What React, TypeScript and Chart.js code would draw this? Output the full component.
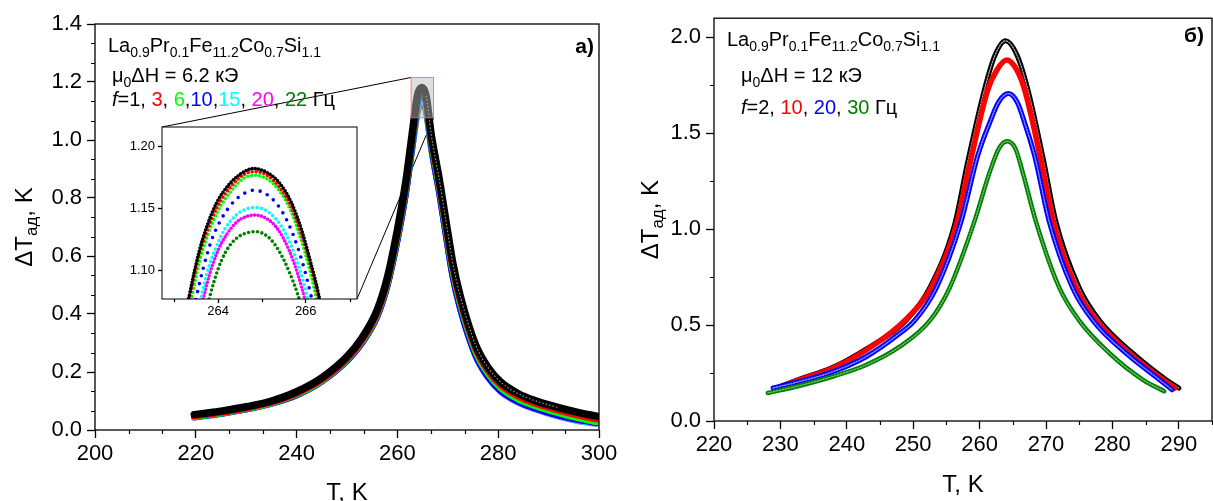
import React, { useEffect, useRef } from "react";
import { Chart, registerables } from "chart.js";

Chart.register(...registerables);

const FF = '"Liberation Sans", Arial, Helvetica, sans-serif';

// ---------- Panel a) : f = 1, 3, 6, 10, 15, 20, 22 Hz ----------
const T_A = [219.7, 222, 225, 230, 235, 240, 245, 250, 253, 256, 258, 260, 261.7, 262.4, 263, 264, 264.85, 265.7, 266.7, 267.4, 268.2, 269.6, 271, 272.5, 275.5, 278, 280.5, 284, 287, 292, 296, 299.5];
const A_F1 = [0.053, 0.058, 0.065, 0.080, 0.100, 0.132, 0.180, 0.253, 0.318, 0.414, 0.525, 0.690, 0.860, 0.950, 1.030, 1.155, 1.181, 1.152, 1.020, 0.950, 0.875, 0.724, 0.575, 0.460, 0.294, 0.215, 0.165, 0.125, 0.103, 0.077, 0.060, 0.048];
const A_F3 = [0.048, 0.053, 0.060, 0.075, 0.095, 0.126, 0.173, 0.245, 0.309, 0.403, 0.512, 0.676, 0.845, 0.936, 1.018, 1.148, 1.1795, 1.146, 1.008, 0.935, 0.858, 0.705, 0.556, 0.443, 0.280, 0.203, 0.154, 0.115, 0.093, 0.067, 0.050, 0.037];
const A_F6 = [0.046, 0.051, 0.058, 0.073, 0.093, 0.123, 0.170, 0.242, 0.305, 0.398, 0.506, 0.668, 0.836, 0.926, 1.008, 1.140, 1.1766, 1.140, 1.000, 0.925, 0.848, 0.694, 0.545, 0.433, 0.271, 0.194, 0.145, 0.106, 0.085, 0.058, 0.040, 0.028];
const A_F10 = [0.045, 0.050, 0.057, 0.072, 0.092, 0.121, 0.168, 0.239, 0.301, 0.392, 0.498, 0.656, 0.822, 0.911, 0.992, 1.125, 1.1645, 1.127, 0.985, 0.908, 0.832, 0.677, 0.528, 0.417, 0.258, 0.182, 0.134, 0.097, 0.076, 0.050, 0.034, 0.025];
const A_F15 = [0.045, 0.050, 0.057, 0.072, 0.092, 0.121, 0.168, 0.240, 0.302, 0.394, 0.500, 0.658, 0.823, 0.910, 0.988, 1.115, 1.1505, 1.116, 0.982, 0.908, 0.833, 0.679, 0.530, 0.418, 0.259, 0.182, 0.134, 0.096, 0.075, 0.048, 0.032, 0.023];
const A_F20 = [0.044, 0.049, 0.056, 0.071, 0.091, 0.120, 0.167, 0.239, 0.301, 0.393, 0.499, 0.657, 0.821, 0.907, 0.984, 1.108, 1.1444, 1.109, 0.978, 0.906, 0.832, 0.678, 0.529, 0.417, 0.258, 0.181, 0.133, 0.095, 0.074, 0.047, 0.031, 0.022];
const A_F22 = [0.045, 0.050, 0.057, 0.072, 0.092, 0.121, 0.168, 0.240, 0.302, 0.394, 0.500, 0.658, 0.822, 0.906, 0.980, 1.097, 1.131, 1.098, 0.975, 0.905, 0.832, 0.680, 0.532, 0.421, 0.262, 0.186, 0.138, 0.100, 0.079, 0.052, 0.036, 0.027];

const A_X_TICKS = [200, 220, 240, 260, 280, 300];
const A_Y_TICKS = [0, 0.2, 0.4, 0.6, 0.8, 1.0, 1.2, 1.4];
const FREQ_A = ["1", "3", "6", "10", "15", "20", "22"];
const SEP_A = [", ", ", ", ",", ",", ", ", ", "];

// ---------- Inset (zoom of the peak) ----------
const IN_X_MIN = 262.72, IN_X_MAX = 267.17, IN_Y_MIN = 1.0766, IN_Y_MAX = 1.2156;
const IN_X_TICKS = [264, 266];
const IN_Y_TICKS = [1.10, 1.15, 1.20];
const IN_T_1 = [263.25, 263.34, 263.56, 263.74, 263.96, 264.27, 264.57, 264.80, 265.11, 265.41, 265.68, 265.91, 266.10, 266.29, 266.37];
const IN_V_1 = [1.062, 1.079, 1.114, 1.135, 1.154, 1.170, 1.179, 1.182, 1.179, 1.170, 1.154, 1.132, 1.108, 1.081, 1.066];
const IN_T_3 = [263.30, 263.55, 263.75, 263.98, 264.28, 264.58, 264.82, 265.10, 265.40, 265.67, 265.90, 266.10, 266.32];
const IN_V_3 = [1.070, 1.110, 1.132, 1.151, 1.167, 1.177, 1.1795, 1.177, 1.167, 1.151, 1.129, 1.105, 1.074];
const IN_T_6 = [263.33, 263.57, 263.77, 264.00, 264.30, 264.58, 264.82, 265.10, 265.40, 265.66, 265.88, 266.08, 266.30];
const IN_V_6 = [1.066, 1.106, 1.129, 1.148, 1.164, 1.174, 1.1766, 1.174, 1.164, 1.148, 1.126, 1.102, 1.068];
const IN_T_10 = [263.45, 263.65, 263.85, 264.07, 264.35, 264.60, 264.82, 265.07, 265.35, 265.60, 265.82, 266.02, 266.22];
const IN_V_10 = [1.070, 1.100, 1.124, 1.141, 1.155, 1.162, 1.1645, 1.162, 1.153, 1.138, 1.118, 1.094, 1.064];
const IN_T_15 = [263.55, 263.75, 263.95, 264.15, 264.40, 264.62, 264.82, 265.05, 265.30, 265.53, 265.75, 265.95, 266.12];
const IN_V_15 = [1.068, 1.098, 1.118, 1.133, 1.144, 1.149, 1.1505, 1.149, 1.142, 1.130, 1.112, 1.090, 1.066];
const IN_T_20 = [263.60, 263.80, 264.00, 264.20, 264.43, 264.63, 264.82, 265.03, 265.27, 265.50, 265.72, 265.90, 266.07];
const IN_V_20 = [1.068, 1.096, 1.116, 1.129, 1.139, 1.143, 1.1444, 1.143, 1.137, 1.125, 1.107, 1.087, 1.064];
const IN_T_22 = [263.72, 263.90, 264.08, 264.27, 264.47, 264.66, 264.82, 265.00, 265.22, 265.43, 265.63, 265.82, 265.98];
const IN_V_22 = [1.066, 1.090, 1.108, 1.120, 1.127, 1.130, 1.131, 1.130, 1.124, 1.113, 1.098, 1.080, 1.060];

// ---------- Panel б) : f = 2, 10, 20, 30 Hz ----------
const B_T_2 = [229.3, 232.9, 237.9, 242.9, 248.9, 252.5, 256.2, 258.2, 260.7, 262.3, 263.9, 265.6, 267.3, 269.5, 271.5, 275.0, 278.1, 283.1, 288.1, 290.0];
const B_V_2 = [0.172, 0.218, 0.280, 0.375, 0.523, 0.695, 1.020, 1.350, 1.724, 1.905, 1.982, 1.910, 1.724, 1.381, 1.038, 0.695, 0.523, 0.352, 0.215, 0.172];
const B_T_10 = [229.5, 232.9, 237.9, 242.9, 248.7, 252.7, 256.5, 258.6, 261.2, 262.6, 264.1, 265.6, 266.8, 269.1, 271.1, 274.5, 277.6, 282.6, 287.6, 289.4];
const B_V_10 = [0.170, 0.215, 0.275, 0.369, 0.523, 0.695, 1.020, 1.350, 1.724, 1.830, 1.882, 1.830, 1.724, 1.381, 1.038, 0.695, 0.523, 0.352, 0.215, 0.172];
const B_T_20 = [228.9, 232.9, 237.9, 242.9, 247.9, 250.2, 253.5, 257.2, 259.7, 261.5, 262.9, 264.35, 265.7, 266.8, 268.3, 270.5, 274.0, 277.1, 282.1, 287.1, 289.0];
const B_V_20 = [0.172, 0.206, 0.257, 0.335, 0.455, 0.523, 0.695, 1.038, 1.381, 1.553, 1.665, 1.707, 1.660, 1.553, 1.381, 1.038, 0.695, 0.523, 0.352, 0.215, 0.163];
const B_T_30 = [228.1, 232.9, 237.9, 242.9, 247.9, 252.5, 255.5, 259.2, 261.5, 262.9, 264.15, 265.4, 266.5, 268.5, 272.0, 275.0, 279.6, 284.6, 287.8];
const B_V_30 = [0.146, 0.184, 0.232, 0.292, 0.386, 0.523, 0.695, 1.038, 1.295, 1.420, 1.458, 1.420, 1.295, 1.038, 0.695, 0.523, 0.352, 0.215, 0.155];

const B_X_TICKS = [220, 230, 240, 250, 260, 270, 280, 290];
const B_Y_TICKS = [0, 0.5, 1.0, 1.5, 2.0];
const FREQ_B = ["2", "10", "20", "30"];
const SEP_B = [", ", ", ", ", "];

const BLACK = "#000000", RED = "#ff0000", LIME = "#00ff00", BLUE = "#0000ff", CYAN = "#00ffff", MAGENTA = "#ff00ff", DKGREEN = "#008000";
const COLORS_A = [BLACK, RED, LIME, BLUE, CYAN, MAGENTA, DKGREEN];
const COLORS_B = [BLACK, RED, BLUE, DKGREEN];

// inset placement on the page (layout)
const INSET = { left: 162, top: 127, right: 357, bottom: 299 };

const zip = (xs: number[], ys: number[]) => xs.map((x, i) => ({ x, y: ys[i] }));

function lineDs(data: any, color: string, width: number, extra: any = {}) {
  return {
    data,
    borderColor: color,
    backgroundColor: color,
    borderWidth: width,
    pointRadius: 0,
    fill: false,
    cubicInterpolationMode: "monotone",
    borderJoinStyle: "round",
    borderCapStyle: "round",
    ...extra,
  };
}

function scaleCfg(min: number, max: number, ticks: number[], dec: number, font: number, tickLen: number, pad: number, fit: number, isX: boolean) {
  return {
    type: "linear",
    position: isX ? "bottom" : "left",
    min,
    max,
    afterBuildTicks: (s: any) => {
      s.ticks = ticks.map((v) => ({ value: v }));
    },
    afterFit: (s: any) => {
      if (isX) s.height = fit;
      else s.width = fit;
    },
    ticks: {
      callback: (v: any) => Number(v).toFixed(dec),
      font: { family: FF, size: font },
      color: "#000",
      padding: pad,
      maxRotation: 0,
      minRotation: 0,
      autoSkip: false,
    },
    grid: { drawOnChartArea: false, drawTicks: true, tickLength: tickLen, tickColor: "#000", tickWidth: 1.3 },
    border: { display: false },
  };
}

type Run = { t: string; size?: number; dy?: number; color?: string; style?: string };
const sub = (t: string, size = 14, dy = 5): Run => ({ t, size, dy });

function drawRuns(ctx: any, x: number, y: number, runs: Run[], base: number) {
  for (const r of runs) {
    ctx.font = `${r.style ?? ""} ${r.size ?? base}px ${FF}`;
    ctx.fillStyle = r.color ?? "#000";
    ctx.fillText(r.t, x, y + (r.dy ?? 0));
    x += ctx.measureText(r.t).width;
  }
}
function runsWidth(ctx: any, runs: Run[], base: number) {
  let w = 0;
  for (const r of runs) {
    ctx.font = `${r.style ?? ""} ${r.size ?? base}px ${FF}`;
    w += ctx.measureText(r.t).width;
  }
  return w;
}

const FORMULA: Run[] = [{ t: "La" }, sub("0.9"), { t: "Pr" }, sub("0.1"), { t: "Fe" }, sub("11.2"), { t: "Co" }, sub("0.7"), { t: "Si" }, sub("1.1")];
const YTITLE: Run[] = [{ t: "ΔT" }, { t: "ад", size: 17, dy: 5 }, { t: ", K" }];

function freqRuns(freqs: string[], seps: string[], colors: string[]): Run[] {
  const runs: Run[] = [{ t: "f", style: "italic" }, { t: "=" }];
  freqs.forEach((f, i) => {
    runs.push({ t: f, color: i === 0 ? "#000" : colors[i] });
    if (i < seps.length) runs.push({ t: seps[i] });
  });
  runs.push({ t: " Гц" });
  return runs;
}

function minorTicks(list: { axis: string; start: number; step: number; majors: number[]; len: number }[]) {
  return {
    id: "minorTicks",
    afterDraw(chart: any) {
      const ctx = chart.ctx;
      const ca = chart.chartArea;
      ctx.save();
      ctx.strokeStyle = "#000";
      ctx.lineWidth = 1.2;
      ctx.beginPath();
      for (const m of list) {
        const s = chart.scales[m.axis];
        for (let i = 0; i < 1000; i++) {
          const v = m.start + i * m.step;
          if (v > s.max + 1e-9) break;
          if (m.majors.some((t) => Math.abs(t - v) < 1e-6)) continue;
          const p = Math.round(s.getPixelForValue(v)) + 0.5;
          if (m.axis === "x") {
            ctx.moveTo(p, ca.bottom);
            ctx.lineTo(p, ca.bottom + m.len);
          } else {
            ctx.moveTo(ca.left, p);
            ctx.lineTo(ca.left - m.len, p);
          }
        }
      }
      ctx.stroke();
      ctx.restore();
    },
  };
}

const framePlugin = (lw: number) => ({
  id: "frame",
  afterDraw(chart: any) {
    const { ctx, chartArea: a } = chart;
    ctx.save();
    ctx.strokeStyle = "#000";
    ctx.lineWidth = lw;
    ctx.strokeRect(a.left, a.top, a.right - a.left, a.bottom - a.top);
    ctx.restore();
  },
});

function titlesPlugin(yTitleOffset: number, xTitleOffset: number) {
  return {
    id: "titles",
    afterDraw(chart: any) {
      const { ctx, chartArea: a } = chart;
      ctx.save();
      ctx.textBaseline = "alphabetic";
      ctx.textAlign = "left";
      ctx.font = `24px ${FF}`;
      ctx.fillStyle = "#000";
      const xt = "T, K";
      const w = ctx.measureText(xt).width;
      ctx.fillText(xt, (a.left + a.right) / 2 - w / 2, a.bottom + xTitleOffset);
      ctx.translate(a.left - yTitleOffset, (a.top + a.bottom) / 2);
      ctx.rotate(-Math.PI / 2);
      const tw = runsWidth(ctx, YTITLE, 24);
      drawRuns(ctx, -tw / 2, 0, YTITLE, 24);
      ctx.restore();
    },
  };
}

function panelTextPlugin(opts: { fx: number; fy: number; lx: number; ly2: number; ly3: number; field: string; freq: Run[]; letter: string; letterRight: number; letterY: number }) {
  return {
    id: "panelText",
    afterDraw(chart: any) {
      const { ctx, chartArea: a } = chart;
      ctx.save();
      ctx.textBaseline = "alphabetic";
      ctx.textAlign = "left";
      drawRuns(ctx, a.left + opts.fx, a.top + opts.fy, FORMULA, 20);
      drawRuns(ctx, a.left + opts.lx, a.top + opts.ly2, [{ t: "μ" }, sub("0"), { t: "ΔH = " + opts.field + " кЭ" }], 20);
      drawRuns(ctx, a.left + opts.lx, a.top + opts.ly3, opts.freq, 20);
      ctx.font = `bold 21px ${FF}`;
      ctx.fillStyle = "#000";
      ctx.textAlign = "right";
      ctx.fillText(opts.letter, a.right - opts.letterRight, a.top + opts.letterY);
      ctx.restore();
    },
  };
}

const zoomPlugin = {
  id: "zoomBox",
  beforeDatasetsDraw(chart: any) {
    const { ctx, scales } = chart;
    const x1 = scales.x.getPixelForValue(IN_X_MIN), x2 = scales.x.getPixelForValue(IN_X_MAX);
    const y1 = scales.y.getPixelForValue(IN_Y_MAX), y2 = scales.y.getPixelForValue(IN_Y_MIN);
    ctx.save();
    ctx.strokeStyle = "#000";
    ctx.lineWidth = 1;
    ctx.beginPath();
    ctx.moveTo(INSET.left, INSET.top);
    ctx.lineTo(x1, y1);
    ctx.moveTo(INSET.right, INSET.bottom);
    ctx.lineTo(x2, y2);
    ctx.stroke();
    ctx.restore();
  },
  afterDatasetsDraw(chart: any) {
    const { ctx, scales } = chart;
    const x1 = scales.x.getPixelForValue(IN_X_MIN), x2 = scales.x.getPixelForValue(IN_X_MAX);
    const y1 = scales.y.getPixelForValue(IN_Y_MAX), y2 = scales.y.getPixelForValue(IN_Y_MIN);
    ctx.save();
    ctx.fillStyle = "rgba(187,187,187,0.48)";
    ctx.fillRect(x1, y1, x2 - x1, y2 - y1);
    ctx.strokeStyle = "rgba(235,110,110,0.85)";
    ctx.lineWidth = 1;
    ctx.strokeRect(x1, y1, x2 - x1, y2 - y1);
    ctx.restore();
  },
};

const whiteAreaPlugin = {
  id: "whiteArea",
  beforeDraw(chart: any) {
    const { ctx, chartArea: a } = chart;
    ctx.save();
    ctx.fillStyle = "#fff";
    ctx.fillRect(a.left, a.top, a.right - a.left, a.bottom - a.top);
    ctx.restore();
  },
};

const baseOpts = {
  responsive: false,
  animation: false,
  events: [],
};

// ---- geometry of canvases (layout) ----
const LEFT_CANVAS = { left: 0, top: 0, width: 630, height: 501 };
const RIGHT_CANVAS = { left: 630, top: 0, width: 583, height: 501 };
const INSET_CANVAS = { left: 110, top: 112, width: 262, height: 218 };

function makeLeft() {
  const series = [A_F1, A_F3, A_F6, A_F10, A_F15, A_F20, A_F22];
  const datasets: any[] = series.map((s, i) => lineDs(zip(T_A, s), COLORS_A[i], i === 0 ? 7.5 : 6.5));
  // light centre of the hollow black markers on the falling side
  datasets.unshift(
    lineDs(zip(T_A, A_F1), "#9a9a9a", 1.2, {
      borderDash: [1.5, 2],
      borderCapStyle: "butt",
      segment: {
        borderColor: (c: any) => (c.p0.parsed.x >= 265.7 && c.p1.parsed.x <= 292 ? "#9a9a9a" : "rgba(0,0,0,0)"),
      },
    })
  );
  return {
    type: "line",
    data: { datasets },
    options: {
      ...baseOpts,
      layout: { autoPadding: false, padding: { left: 0, top: 24, right: LEFT_CANVAS.width - 599, bottom: 0 } },
      plugins: { legend: { display: false }, tooltip: { enabled: false } },
      scales: {
        x: scaleCfg(200, 300, A_X_TICKS, 0, 22, 8, 3, 71, true),
        y: scaleCfg(0, 1.4, A_Y_TICKS, 1, 22, 8, 5, 95, false),
      },
    },
    plugins: [
      zoomPlugin,
      minorTicks([
        { axis: "x", start: 200, step: 20 / 3, majors: A_X_TICKS, len: 4 },
        { axis: "y", start: 0, step: 0.2 / 3, majors: A_Y_TICKS, len: 4 },
      ]),
      framePlugin(1.3),
      titlesPlugin(63, 70),
      panelTextPlugin({ fx: 13, fy: 28, lx: 17, ly2: 58, ly3: 82, field: "6.2", freq: freqRuns(FREQ_A, SEP_A, COLORS_A), letter: "а)", letterRight: 5, letterY: 29 }),
    ],
  };
}

function makeInset() {
  const sets = [
    [IN_T_1, IN_V_1, 3.2],
    [IN_T_3, IN_V_3, 4],
    [IN_T_6, IN_V_6, 4],
    [IN_T_10, IN_V_10, 8],
    [IN_T_15, IN_V_15, 4.5],
    [IN_T_20, IN_V_20, 3.5],
    [IN_T_22, IN_V_22, 4.5],
  ] as any[];
  const datasets = sets.map((s, i) =>
    lineDs(zip(s[0], s[1]), COLORS_A[i], 3.6, { borderDash: [0, s[2]], clip: 0 })
  );
  return {
    type: "line",
    data: { datasets },
    options: {
      ...baseOpts,
      layout: {
        autoPadding: false,
        padding: {
          left: 0,
          top: INSET.top - INSET_CANVAS.top,
          right: INSET_CANVAS.left + INSET_CANVAS.width - INSET.right,
          bottom: 0,
        },
      },
      plugins: { legend: { display: false }, tooltip: { enabled: false } },
      scales: {
        x: scaleCfg(IN_X_MIN, IN_X_MAX, IN_X_TICKS, 0, 13, 4, 1, INSET_CANVAS.top + INSET_CANVAS.height - INSET.bottom, true),
        y: scaleCfg(IN_Y_MIN, IN_Y_MAX, IN_Y_TICKS, 2, 13, 4, 3, INSET.left - INSET_CANVAS.left, false),
      },
    },
    plugins: [
      whiteAreaPlugin,
      minorTicks([{ axis: "x", start: 263, step: 1, majors: IN_X_TICKS, len: 3 }]),
      framePlugin(1),
    ],
  };
}

function makeRight() {
  const dBlack = zip(B_T_2, B_V_2);
  const dRed = zip(B_T_10, B_V_10);
  const dBlue = zip(B_T_20, B_V_20);
  const dGreen = zip(B_T_30, B_V_30);
  const datasets = [
    lineDs(dGreen, "#7fc47f", 1.2, { borderDash: [1.5, 1.5] }),
    lineDs(dGreen, DKGREEN, 4.5),
    lineDs(dBlue, "#8c8cff", 1.4, { borderDash: [1.5, 1.5] }),
    lineDs(dBlue, BLUE, 5),
    lineDs(dRed, RED, 5.5),
    lineDs(dBlack, "#b0b0b0", 1.2, { borderDash: [1.5, 1.5] }),
    lineDs(dBlack, BLACK, 5),
  ];
  return {
    type: "line",
    data: { datasets },
    options: {
      ...baseOpts,
      layout: { autoPadding: false, padding: { left: 0, top: 14, right: RIGHT_CANVAS.left + RIGHT_CANVAS.width - 1212, bottom: 0 } },
      plugins: { legend: { display: false }, tooltip: { enabled: false } },
      scales: {
        x: scaleCfg(220, 295, B_X_TICKS, 0, 22, 8, 3, 80, true),
        y: scaleCfg(0, 2.1, B_Y_TICKS, 1, 22, 8, 5, 714 - RIGHT_CANVAS.left, false),
      },
    },
    plugins: [
      minorTicks([
        { axis: "x", start: 220, step: 5, majors: B_X_TICKS, len: 4 },
        { axis: "y", start: 0, step: 0.25, majors: B_Y_TICKS, len: 4 },
      ]),
      framePlugin(1.3),
      titlesPlugin(56, 71),
      panelTextPlugin({ fx: 13, fy: 28, lx: 27, ly2: 64, ly3: 96, field: "12", freq: freqRuns(FREQ_B, SEP_B, COLORS_B), letter: "б)", letterRight: 8, letterY: 24 }),
    ],
  };
}

function ChartCanvas({ box, make }: { box: any; make: () => any }) {
  const ref = useRef<HTMLCanvasElement>(null);
  useEffect(() => {
    const chart = new Chart(ref.current as HTMLCanvasElement, make() as any);
    return () => chart.destroy();
  }, []);
  return (
    <canvas
      ref={ref}
      width={box.width}
      height={box.height}
      style={{ position: "absolute", left: box.left, top: box.top, width: box.width, height: box.height }}
    />
  );
}

export default function App() {
  return (
    <div style={{ position: "absolute", left: 0, top: 0, width: 1213, height: 501, background: "#fff", overflow: "hidden" }}>
      <ChartCanvas box={LEFT_CANVAS} make={makeLeft} />
      <ChartCanvas box={RIGHT_CANVAS} make={makeRight} />
      <ChartCanvas box={INSET_CANVAS} make={makeInset} />
    </div>
  );
}
